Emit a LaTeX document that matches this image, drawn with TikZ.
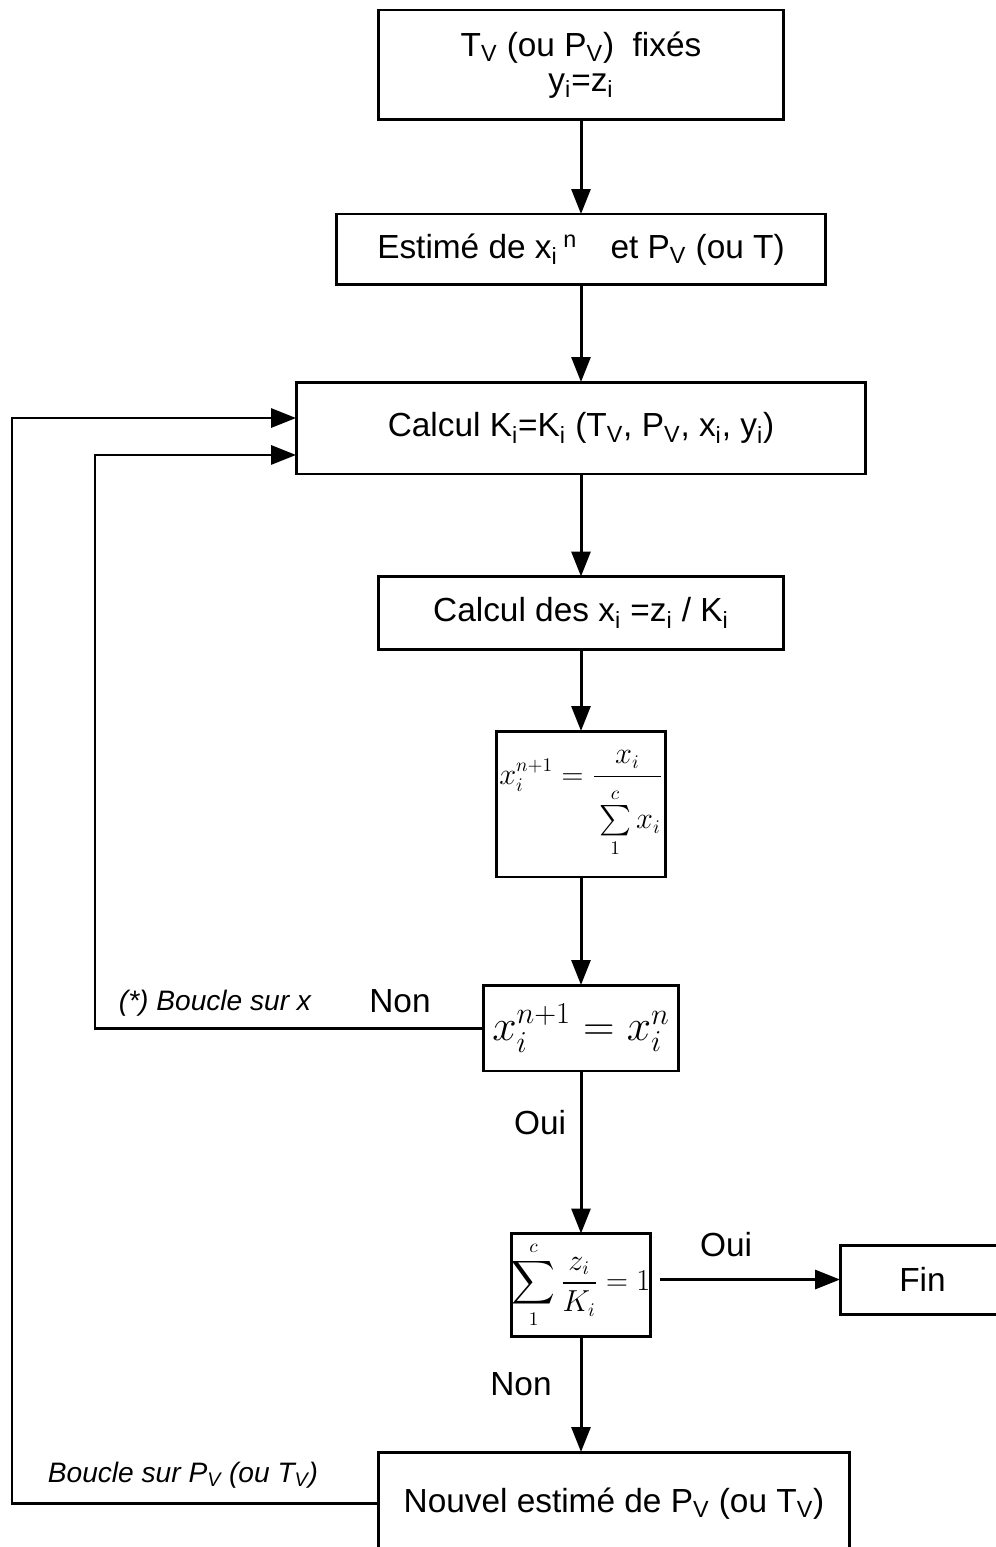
\documentclass[tikz,border=0pt]{standalone}
\usepackage[no-math]{fontspec}
\setmainfont{Liberation Sans}
\usepackage{amsmath}
\usetikzlibrary{arrows.meta,positioning,calc}
\tikzset{
  box/.style={draw, line width=1.7pt, inner sep=0pt, outer sep=0pt, align=center,
              font=\fontsize{19}{20}\selectfont},
  flow/.style={-{Triangle[length=0.5cm,width=0.38cm]}, line width=1.7pt},
  tag/.style={font=\fontsize{19}{20}\selectfont},
  note/.style={font=\fontsize{16}{18}\selectfont\itshape},
}

\begin{document}
\begin{tikzpicture}[x=0.02cm,y=-0.02cm]
        \useasboundingbox (0,0) rectangle (995,1547);
        % main column
        \node[box,minimum width=8.12cm,minimum height=2.2cm] (init) at (581,65)
          {T\textsubscript{V} (ou P\textsubscript{V})\ \ fixés\\ y\textsubscript{i}=z\textsubscript{i}};
        \node[box,minimum width=9.78cm,minimum height=1.42cm] (est) at (581,249.5)
          {Estimé de x\textsubscript{i}\,\textsuperscript{n}\quad et P\textsubscript{V} (ou T)};
        \node[box,minimum width=11.4cm,minimum height=1.84cm] (calc) at (581,428)
          {Calcul K\textsubscript{i}=K\textsubscript{i}\ (T\textsubscript{V}, P\textsubscript{V}, x\textsubscript{i}, y\textsubscript{i})};
        \node[box,minimum width=8.12cm,minimum height=1.46cm] (xs) at (581,613)
          {Calcul des x\textsubscript{i} =z\textsubscript{i} / K\textsubscript{i}};
        \node[box,minimum width=3.38cm,minimum height=2.92cm,font=\fontsize{16}{18}\selectfont] (norm) at (581,804)
          {$\displaystyle x_i^{n+1}=\frac{x_i}{\rule{0pt}{1.7em}\sum\limits_{1}^{c} x_i}$};
        \node[box,minimum width=3.92cm,minimum height=1.72cm,font=\fontsize{23}{25}\selectfont] (test) at (581,1028)
          {$x_i^{n+1} = x_i^{n}$};
        \node[box,minimum width=2.76cm,minimum height=2.06cm,font=\fontsize{16}{18}\selectfont] (sum) at (581,1285)
          {$\displaystyle \sum_{1}^{c}\frac{z_i}{K_i}=1$};
        \node[box,minimum width=3.3cm,minimum height=1.38cm] (fin) at (922.5,1279.5) {Fin};
        \node[box,minimum width=9.44cm,minimum height=2.06cm] (bot) at (614,1503.5)
          {Nouvel estimé de P\textsubscript{V} (ou T\textsubscript{V})};
        % arrows down
        \foreach \a/\b in {init/est,est/calc,calc/xs,xs/norm,norm/test,test/sum,sum/bot}
          \draw[flow] (\a.south -| 581,0) -- (\b.north -| 581,0);
        \draw[flow,shorten <=0.2cm] (fin.west -| sum.east) -- (fin.west);
        % loops
        \coordinate (lpo) at (12,0);
        \coordinate (lpi) at (95,0);
        \draw[flow] (bot.west) -- (bot.west -| lpo) |- ([yshift=0.2cm]calc.west);
        \draw[flow] (test.west) -- (test.west -| lpi) |- ([yshift=-0.54cm]calc.west);
        % labels
        \node[note] (lbx) at (215,1003) {(*) Boucle sur x};
        \node[tag] (non1) at (400,1001) {Non};
        \node[tag] (oui1) at (540,1123) {Oui};
        \node[tag] (oui2) at (726,1245) {Oui};
        \node[tag] (non2) at (521,1384) {Non};
        \node[note] (lbp) at (183,1475) {Boucle sur P\textsubscript{V} (ou T\textsubscript{V})};
      \end{tikzpicture}
\end{document}
